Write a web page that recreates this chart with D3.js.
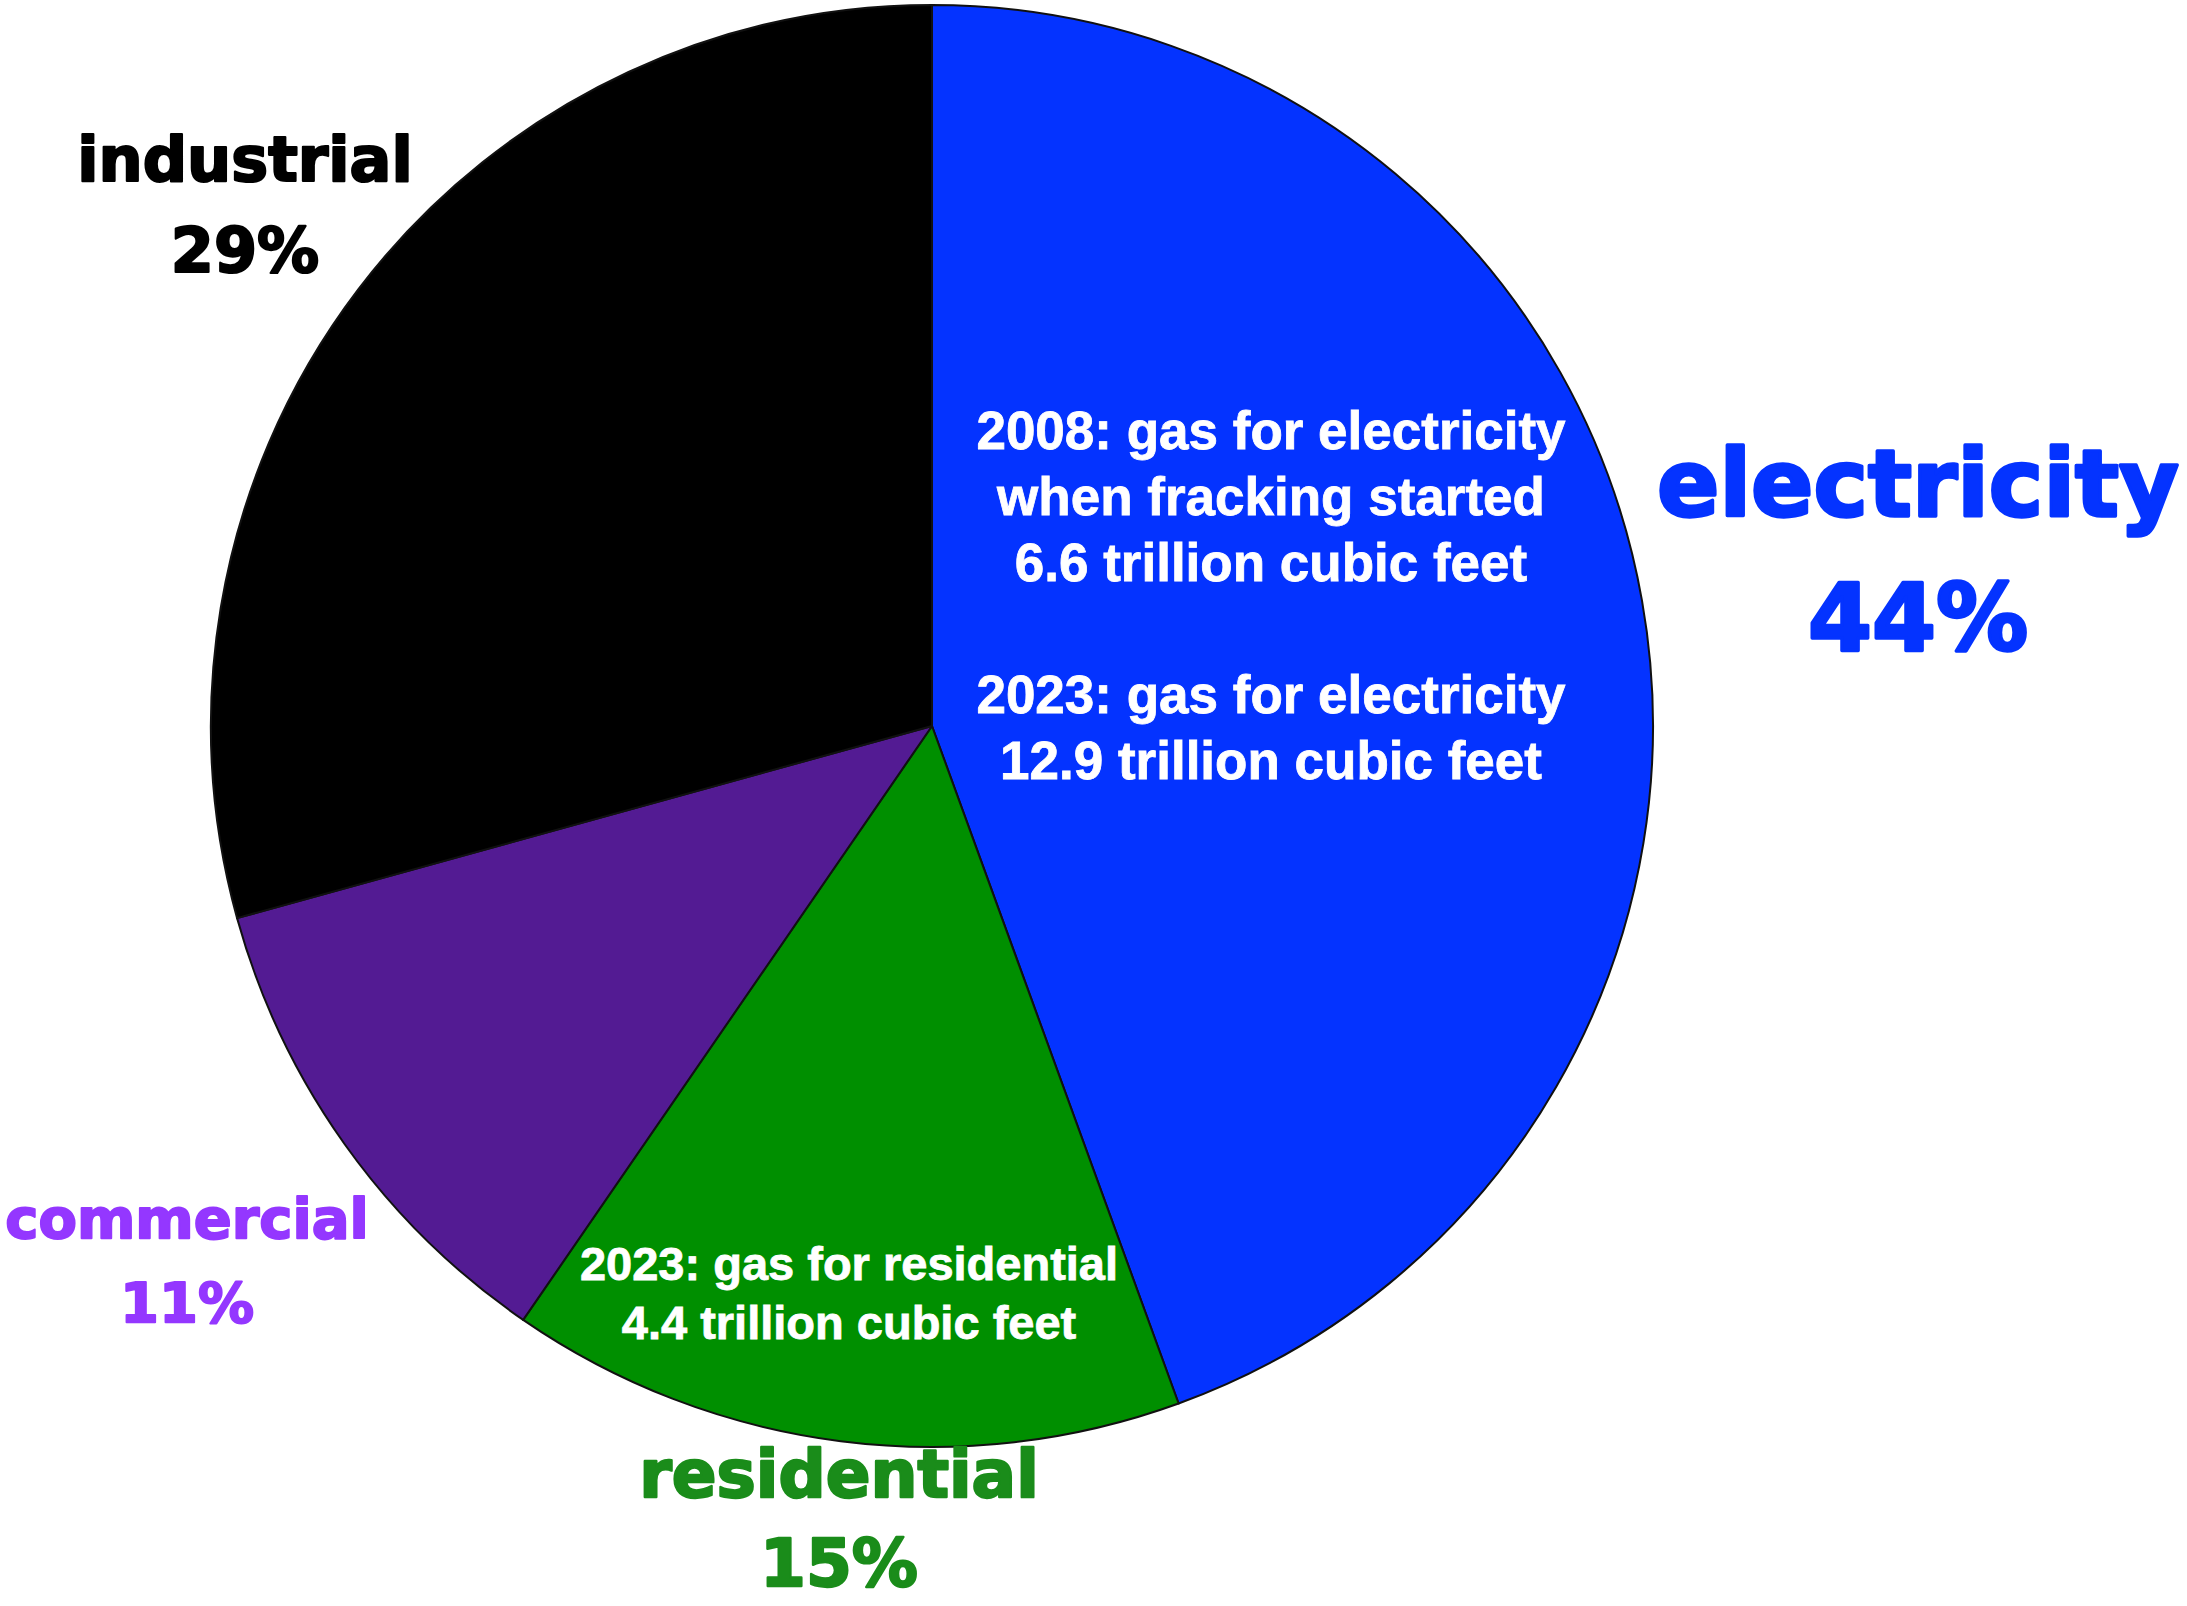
<!DOCTYPE html>
<html>
<head>
<meta charset="utf-8">
<script src="https://cdn.jsdelivr.net/npm/d3@7"></script>
<style>
  body { margin: 0; background: #fff; }
  svg { display: block; }
</style>
</head>
<body>
<div id="chart"></div>
<script>
// natural gas use by sector, share of total (2023)
const sectors = ['electricity', 'residential', 'commercial', 'industrial'];
const shares = [44, 15, 11, 29];
const sliceColors = ['#0433ff', '#008f00', '#531b93', '#000000'];
const labelColors = ['#0433ff', '#1a8c1a', '#9437ff', '#000000'];

const electricityNotes = [
  '2008: gas for electricity',
  'when fracking started',
  '6.6 trillion cubic feet',
  '',
  '2023: gas for electricity',
  '12.9 trillion cubic feet',
];
const residentialNotes = [
  '2023: gas for residential',
  '4.4 trillion cubic feet',
];

const width = 2187;
const height = 1606;
const cx = 932;
const cy = 726;
const radius = 721;

// where each outside label sits, and its font size
const labelLayout = {
  electricity: { x: 1918, y: 516, size: 92, gap: 134 },
  residential: { x: 839, y: 1497, size: 66, gap: 89 },
  commercial: { x: 187, y: 1238, size: 56, gap: 84 },
  industrial: { x: 245, y: 181, size: 62, gap: 91 },
};

const svg = d3.select('#chart')
  .append('svg')
  .attr('width', width)
  .attr('height', height)
  .attr('viewBox', [0, 0, width, height]);

const pie = d3.pie()
  .sort(null)
  .value((d) => d.value);

const arc = d3.arc()
  .innerRadius(0)
  .outerRadius(radius);

const data = sectors.map((name, i) => ({ name, value: shares[i], i }));

const g = svg.append('g')
  .attr('transform', `translate(${cx},${cy})`);

g.selectAll('path')
  .data(pie(data))
  .join('path')
  .attr('d', arc)
  .attr('fill', (d) => sliceColors[d.data.i])
  .attr('stroke', '#111')
  .attr('stroke-width', 2)
  .attr('stroke-linejoin', 'round');

// outside labels: name + percent, stroked a bit to look heavier
const labels = svg.append('g')
  .attr('font-family', '"DejaVu Sans", sans-serif')
  .attr('font-weight', 'bold')
  .attr('text-anchor', 'middle')
  .attr('stroke-linejoin', 'round');

data.forEach((d) => {
  const pos = labelLayout[d.name];
  const t = labels.append('text')
    .attr('fill', labelColors[d.i])
    .attr('stroke', labelColors[d.i])
    .attr('stroke-width', pos.size / 28)
    .attr('font-size', pos.size);
  t.append('tspan')
    .attr('x', pos.x)
    .attr('y', pos.y)
    .text(d.name);
  t.append('tspan')
    .attr('x', pos.x)
    .attr('y', pos.y + pos.gap)
    .text(`${d.value}%`);
});

// white notes inside the slices
const notes = (lines, x, y, size, step) => {
  svg.append('text')
    .attr('font-family', '"Liberation Sans", Arial, sans-serif')
    .attr('font-weight', 'bold')
    .attr('font-size', size)
    .attr('fill', '#fff')
    .attr('stroke', '#fff')
    .attr('stroke-width', 0.8)
    .attr('text-anchor', 'middle')
    .selectAll('tspan')
    .data(lines)
    .join('tspan')
    .attr('x', x)
    .attr('y', (d, i) => y + i * step)
    .text((d) => d);
};

notes(electricityNotes, 1271, 449, 53, 66);
notes(residentialNotes, 849, 1280, 47, 59);
</script>
</body>
</html>
